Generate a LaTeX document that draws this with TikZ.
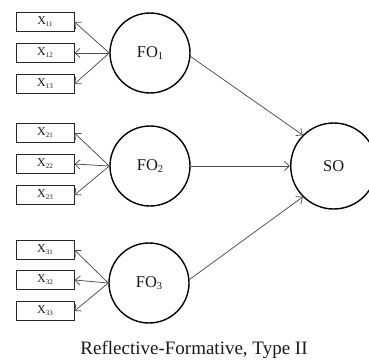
\documentclass[tikz,border=0pt]{standalone}
\usepackage{fontspec}
\setmainfont{Liberation Serif}
\usetikzlibrary{arrows.meta}
\newcommand\subx[1]{\raisebox{-0.35ex}{\fontsize{7}{8}\selectfont #1}}
\newcommand\subf[1]{\raisebox{-0.35ex}{\fontsize{10.5}{11}\selectfont #1}}
\begin{document}
\begin{tikzpicture}[x=1pt,y=-1pt,
  ind/.style={draw=black!85,line width=0.9pt,minimum width=58pt,minimum height=19pt,inner sep=0pt,font=\fontsize{12}{13}\selectfont,text=black!90},
  fo/.style={circle,draw=black,line width=1.4pt,minimum size=80pt,inner sep=0pt,font=\fontsize{16.5}{18}\selectfont,text=black!90},
  so/.style={circle,draw=black,line width=1.4pt,minimum size=86pt,inner sep=0pt,font=\fontsize{16.5}{18}\selectfont,text=black!90},
  arr/.style={draw=black!70,line width=0.75pt,-{Straight Barb[length=5pt,width=9pt,line width=0.75pt]}}]
\useasboundingbox (0,0) rectangle (369,361);
\node[fo] (fo1) at (150,53) {FO\subf{1}};
\node[fo] (fo2) at (150,166) {FO\subf{2}};
\node[fo] (fo3) at (149,283) {FO\subf{3}};
\node[so] (so) at (333.7,166) {SO};
\node[ind] (x11) at (45,22) {X\subx{11}};
\node[ind] (x12) at (45,53) {X\subx{12}};
\node[ind] (x13) at (45,84) {X\subx{13}};
\node[ind] (x21) at (45,133) {X\subx{21}};
\node[ind] (x22) at (45,164) {X\subx{22}};
\node[ind] (x23) at (45,195) {X\subx{23}};
\node[ind] (x31) at (45,250) {X\subx{31}};
\node[ind] (x32) at (45,280) {X\subx{32}};
\node[ind] (x33) at (45,311) {X\subx{33}};
\foreach \f/\a/\b/\c in {fo1/x11/x12/x13,fo2/x21/x22/x23,fo3/x31/x32/x33}{
  \draw[arr] (\f.west) -- (\a.east);
  \draw[arr] (\f.west) -- (\b.east);
  \draw[arr] (\f.west) -- (\c.east);
}
\draw[arr] (fo1.-5) -- (so.135);
\draw[arr] (fo2.east) -- (so.west);
\draw[arr] (fo3.5) -- (so.225);
\node[font=\fontsize{19}{22}\selectfont,text=black!90] (cap) at (194,350) {Reflective-Formative, Type II};
\end{tikzpicture}
\end{document}
